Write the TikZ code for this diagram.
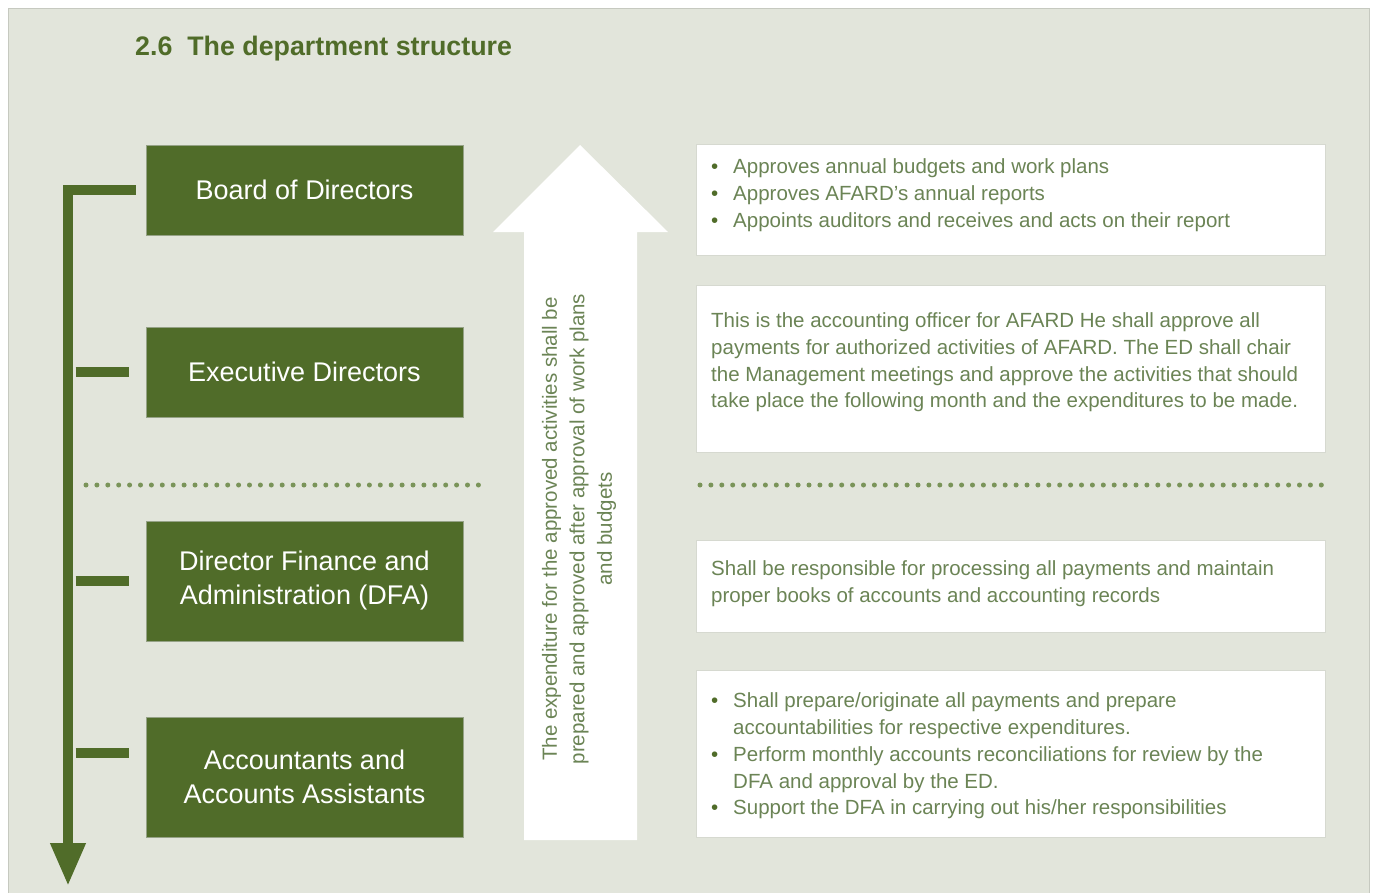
\documentclass[tikz,border=0pt]{standalone}
\usepackage{fontspec}
\setmainfont{Liberation Sans}
\usetikzlibrary{arrows.meta,calc}

\definecolor{panelbg}{HTML}{E2E5DB}
\definecolor{panelline}{HTML}{C6C9C0}
\definecolor{dkgreen}{HTML}{506C29}
\definecolor{boxedge}{HTML}{95A286}
\definecolor{txtgreen}{HTML}{6B8455}
\definecolor{dotgreen}{HTML}{7A9459}
\definecolor{infoedge}{HTML}{D6D9D0}

\tikzset{
  orgbox/.style={fill=dkgreen, draw=boxedge, line width=0.8pt, text=white,
    minimum width=317pt, align=center, inner sep=0pt,
    font=\fontsize{27}{34}\selectfont},
  infobox/.style={fill=white, draw=infoedge, line width=0.6pt,
    minimum width=629pt, inner sep=0pt},
  desc/.style={anchor=north west, inner sep=0pt, text=txtgreen,
    font=\fontsize{20.5}{26.7}\selectfont},
  trunk/.style={draw=dkgreen, line width=10pt, line join=miter,
    -{Triangle[width=33pt,length=43pt]}},
  tick/.style={draw=dkgreen, line width=10pt},
  dotrule/.style={draw=dotgreen, line width=5pt, line cap=round,
    dash pattern=on 0pt off 10.9pt},
}
\newcommand{\bul}{\makebox[22pt][l]{\color{dkgreen}\textbullet}}

\begin{document}
\begin{tikzpicture}[x=1pt,y=-1pt]
\useasboundingbox (0,0) rectangle (1375,892);

% panel
\fill[panelbg] (8,8) rectangle (1369,893);
\draw[panelline, line width=1pt] (8,893) -- (8,8) -- (1369,8) -- (1369,893);

% title
\node[anchor=base west, inner sep=0pt, text=dkgreen,
  font=\fontsize{26.8}{32}\selectfont\bfseries] (title) at (135,55)
  {2.6~~The department structure};

% organisation boxes
\node[orgbox, minimum height=90pt]  (board) at (304.5,190) {Board of Directors};
\node[orgbox, minimum height=90pt]  (exec)  at (304.5,372) {Executive Directors};
\node[orgbox, minimum height=120pt] (dfa)   at (304.5,581) {Director Finance and\\Administration (DFA)};
\node[orgbox, minimum height=120pt] (acc)   at (304.5,777) {Accountants and\\Accounts Assistants};

% hierarchy trunk and ticks
\coordinate (barend) at (68,886);
\draw[trunk] ([xshift=-10pt]board.west) -| (barend);
\draw[tick] ([xshift=-70pt]exec.west) -- ([xshift=-17pt]exec.west);
\draw[tick] ([xshift=-70pt]dfa.west) -- ([xshift=-17pt]dfa.west);
\draw[tick] ([xshift=-70pt,yshift=24pt]acc.west) -- ([xshift=-17pt,yshift=24pt]acc.west);

% dotted separators
\coordinate (dl1) at (86,485);
\coordinate (dl2) at (482,485);
\coordinate (dr1) at (700,485);
\coordinate (dr2) at (1324,485);
\draw[dotrule] (dl1) -- (dl2);
\draw[dotrule] (dr1) -- (dr2);

% upward white arrow
\fill[white] (524,840) -- (524,232) -- (493,232) -- (580,145) -- (668,232)
  -- (637,232) -- (637,840) -- cycle;
\node[rotate=90, align=center, inner sep=0pt, text=txtgreen,
  font=\fontsize{20.5}{27.5}\selectfont] (flow) at (579,529)
  {The expenditure for the approved activities shall be\\
   prepared and approved after approval of work plans\\
   and budgets};

% description boxes
\node[infobox, minimum height=111pt] (info1) at (1010.5,199.5) {};
\node[infobox, minimum height=167pt] (info2) at (1010.5,368.5) {};
\node[infobox, minimum height=92pt]  (info3) at (1010.5,586) {};
\node[infobox, minimum height=167pt] (info4) at (1010.5,753.5) {};

\node[desc] (d1) at (711,155) {\begin{tabular}{@{}l@{}}
\bul Approves annual budgets and work plans\\
\bul Approves AFARD’s annual reports\\
\bul Appoints auditors and receives and acts on their report
\end{tabular}};

\node[desc] (d2) at (711,309) {\begin{tabular}{@{}l@{}}
This is the accounting officer for AFARD He shall approve all\\
payments for authorized activities of AFARD. The ED shall chair\\
the Management meetings and approve the activities that should\\
take place the following month and the expenditures to be made.
\end{tabular}};

\node[desc] (d3) at (711,557) {\begin{tabular}{@{}l@{}}
Shall be responsible for processing all payments and maintain\\
proper books of accounts and accounting records
\end{tabular}};

\node[desc] (d4) at (711,689) {\begin{tabular}{@{}l@{}}
\bul Shall prepare/originate all payments and prepare\\
\hspace{22pt}accountabilities for respective expenditures.\\
\bul Perform monthly accounts reconciliations for review by the\\
\hspace{22pt}DFA and approval by the ED.\\
\bul Support the DFA in carrying out his/her responsibilities
\end{tabular}};
\end{tikzpicture}
\end{document}
